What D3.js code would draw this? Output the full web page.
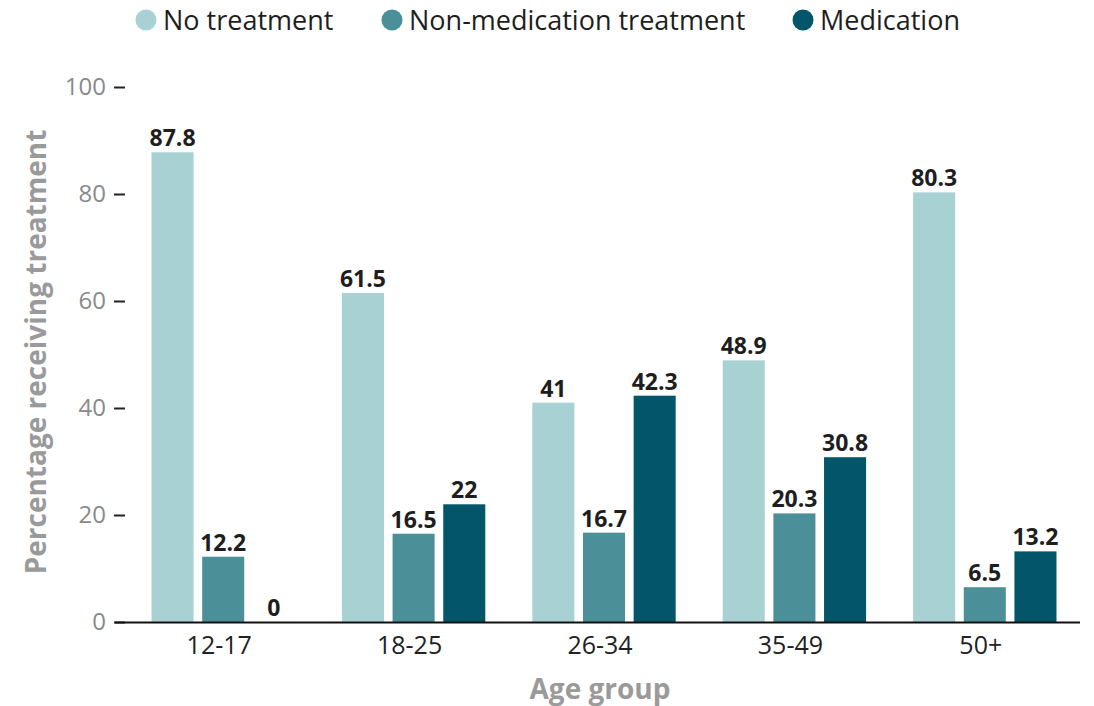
<!DOCTYPE html>
<html><head><meta charset="utf-8">
<script src="https://cdn.jsdelivr.net/npm/d3@7"></script>
<style>body{margin:0;background:#fff}svg{display:block}text{font-family:"Open Sans",sans-serif}</style>
</head><body><svg id="c" width="1094" height="706"></svg>
<script>
const categories = ["12-17","18-25","26-34","35-49","50+"];
const seriesNames = ["No treatment","Non-medication treatment","Medication"];
const noTreatment = [87.8,61.5,41,48.9,80.3];
const nonMedication = [12.2,16.5,16.7,20.3,6.5];
const medication = [0,22,42.3,30.8,13.2];
const yTicks = [0,20,40,60,80,100];
const colors = ["#a8d1d3","#4b9099","#03566a"];

const series = [noTreatment, nonMedication, medication];
const svg = d3.select("#c");
const x0 = d3.scaleBand().domain(categories).range([128,1080]).paddingInner(0.247).paddingOuter(0.1235);
const x1 = d3.scaleBand().domain(d3.range(3)).range([0,x0.bandwidth()]).paddingInner(0.17);
const y = d3.scaleLinear().domain([0,100]).range([622,87]);

// y ticks
const ya = svg.append("g").attr("transform","translate(125,0)")
  .call(d3.axisLeft(y).tickValues(yTicks).tickSize(11).tickPadding(8));
ya.select(".domain").remove();
ya.selectAll(".tick line").attr("stroke","#222").attr("stroke-width",2);
ya.selectAll(".tick text").attr("fill","#8a8a8a").style("font-size","24px").style("font-family","Open Sans");

// bars
const g = svg.append("g");
categories.forEach((c,i)=>{
  series.forEach((s,j)=>{
    const v = s[i];
    const bx = x0(c)+x1(j);
    g.append("rect").attr("x",bx).attr("width",x1.bandwidth())
      .attr("y",y(v)).attr("height",y(0)-y(v)).attr("fill",colors[j]);
    g.append("text").attr("x",bx+x1.bandwidth()/2).attr("y",y(v)-6)
      .attr("text-anchor","middle").attr("fill","#1e1e1e")
      .style("font-size","23px").style("font-weight","700").text(v);
  });
});

// x axis
const xa = svg.append("g").attr("transform","translate(0,622)")
  .call(d3.axisBottom(x0).tickSize(0).tickPadding(14));
xa.select(".domain").remove();
xa.selectAll(".tick text").attr("fill","#222").attr("dx","-4").style("font-size","25px").style("font-family","Open Sans");
svg.append("line").attr("x1",115).attr("x2",1080).attr("y1",622.5).attr("y2",622.5).attr("stroke","#111").attr("stroke-width",2);

// axis titles
svg.append("text").attr("x",600).attr("y",699).attr("text-anchor","middle")
  .attr("fill","#9a9a9a").style("font-size","28px").style("font-weight","700").text("Age group");
svg.append("text").attr("transform","translate(46,352) rotate(-90)").attr("text-anchor","middle")
  .attr("fill","#9a9a9a").style("font-size","28px").style("font-weight","700").text("Percentage receiving treatment");

// legend
const legX = [146,392,803];
seriesNames.forEach((n,j)=>{
  svg.append("circle").attr("cx",legX[j]).attr("cy",20).attr("r",10.5).attr("fill",colors[j]);
  svg.append("text").attr("x",legX[j]+17).attr("y",30).attr("fill","#1e1e1e").style("font-size","27px").text(n);
});
</script></body></html>
